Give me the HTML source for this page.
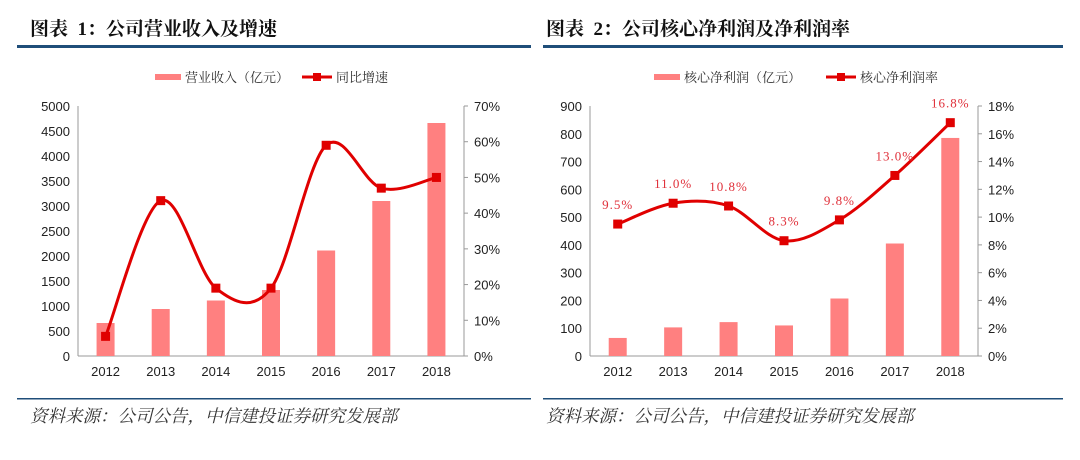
<!DOCTYPE html>
<html><head><meta charset="utf-8">
<style>
body{margin:0;background:#fff;width:1080px;height:460px;overflow:hidden;font-family:"Liberation Sans","Noto Sans CJK SC",sans-serif;}
svg{position:absolute;left:0;top:0}
</style></head>
<body>
<svg id="s" width="1080" height="460" xmlns="http://www.w3.org/2000/svg">
<text x="30" y="35" font-size="19" font-weight="bold" fill="#111" font-family="'Liberation Serif','Noto Serif CJK SC',serif">图表&#160;&#160;1：公司营业收入及增速</text>
<text x="546" y="35" font-size="19" font-weight="bold" fill="#111" font-family="'Liberation Serif','Noto Serif CJK SC',serif">图表&#160;&#160;2：公司核心净利润及净利润率</text>
<rect x="17" y="45" width="514" height="3" fill="#1f4e79"/>
<rect x="543" y="45" width="520" height="3" fill="#1f4e79"/>
<rect x="17" y="398" width="514" height="1.5" fill="#1f4e79"/>
<rect x="543" y="398" width="520" height="1.5" fill="#1f4e79"/>
<text x="30" y="422" font-size="17.5" font-style="italic" fill="#333" font-family="'Liberation Serif','Noto Serif CJK SC',serif">资料来源：公司公告，中信建投证券研究发展部</text>
<text x="546" y="422" font-size="17.5" font-style="italic" fill="#333" font-family="'Liberation Serif','Noto Serif CJK SC',serif">资料来源：公司公告，中信建投证券研究发展部</text>
</svg>
<script>
const categories = ["2012","2013","2014","2015","2016","2017","2018"];
const revenue = [660, 940, 1110, 1320, 2110, 3100, 4660];
const revenueGrowth = [5.5, 43.5, 19, 19, 59, 47, 50];
const leftTicks1 = [0,500,1000,1500,2000,2500,3000,3500,4000,4500,5000];
const rightTicks1 = [0,10,20,30,40,50,60,70];
const netProfit = [65, 103, 122, 110, 207, 405, 785];
const netMargin = [9.5, 11.0, 10.8, 8.3, 9.8, 13.0, 16.8];
const marginLabels = ["9.5%","11.0%","10.8%","8.3%","9.8%","13.0%","16.8%"];
const leftTicks2 = [0,100,200,300,400,500,600,700,800,900];
const rightTicks2 = [0,2,4,6,8,10,12,14,16,18];

const NS="http://www.w3.org/2000/svg";
const svg=document.getElementById('s');
function mk(tag,attrs,parent){const e=document.createElementNS(NS,tag);for(const k in attrs)e.setAttribute(k,attrs[k]);(parent||svg).appendChild(e);return e;}

function chart(o){
  const g=mk('g',{});
  
  
  const top=106,bot=356;
  const lmax=o.lt[o.lt.length-1], rmax=o.rt[o.rt.length-1];
  const yl=v=>bot-(v/lmax)*(bot-top);
  const yr=v=>bot-(v/rmax)*(bot-top);
  const bw=(o.x1-o.x0)/categories.length;
  const xc=i=>o.x0+bw*(i+0.5);
  let a=mk('line',{x1:o.x0,y1:top,x2:o.x0,y2:bot,stroke:'#999','stroke-width':1},g);
  
  a=mk('line',{x1:o.x1,y1:top,x2:o.x1,y2:bot,stroke:'#999','stroke-width':1},g);
  
  a=mk('line',{x1:o.x0,y1:bot,x2:o.x1,y2:bot,stroke:'#999','stroke-width':1},g);
  
  o.lt.forEach(v=>{
    const t=mk('text',{x:o.x0-8,y:yl(v)+5,'text-anchor':'end','font-size':13,fill:'#222'},g);
    t.textContent=v;
    
    
  });
  o.rt.forEach(v=>{
    mk('line',{x1:o.x1,y1:yr(v),x2:o.x1+4,y2:yr(v),stroke:'#999'},g);
    const t=mk('text',{x:o.x1+10,y:yr(v)+5,'font-size':13,fill:'#222'},g);
    t.textContent=v+'%';
    
    
  });
  categories.forEach((c,i)=>{
    const t=mk('text',{x:xc(i),y:bot+20,'text-anchor':'middle','font-size':13,fill:'#222'},g);
    t.textContent=c;
    
    
  });
  o.bars.forEach((v,i)=>{
    const r=mk('rect',{x:xc(i)-9,y:yl(v),width:18,height:bot-yl(v),fill:'#ff8080'},g);
    
    
  });
  const pts=o.line.map((v,i)=>[xc(i),yr(v)]);
  let d='M'+pts[0][0]+','+pts[0][1];
  for(let i=0;i<pts.length-1;i++){
    const p0=pts[Math.max(0,i-1)],p1=pts[i],p2=pts[i+1],p3=pts[Math.min(pts.length-1,i+2)];
    const t=1/6;
    d+=` C${p1[0]+(p2[0]-p0[0])*t},${p1[1]+(p2[1]-p0[1])*t} ${p2[0]-(p3[0]-p1[0])*t},${p2[1]-(p3[1]-p1[1])*t} ${p2[0]},${p2[1]}`;
  }
  const pl=mk('path',{d:d,fill:'none',stroke:'#e00000','stroke-width':3},g);
  
  
  pts.forEach((p,i)=>{
    const m=mk('rect',{x:p[0]-4.5,y:p[1]-4.5,width:9,height:9,fill:'#e00000'},g);
    
    
    if(o.labels){
      const t=mk('text',{x:p[0],y:p[1]-15,'text-anchor':'middle','font-size':13,'letter-spacing':1,fill:'#e0303a','font-family':"'Liberation Serif',serif"},g);
      t.textContent=o.labels[i];
      
      
    }
  });
  const lg=mk('g',{},g);
  
  
  mk('rect',{x:o.lx,y:74,width:26,height:6,fill:'#ff8080'},lg);
  let t=mk('text',{x:o.lx+30,y:82,'font-size':13,fill:'#333','font-family':"'Liberation Serif','Noto Serif CJK SC',serif"},lg);
  t.textContent=o.l1;
  
  
  mk('line',{x1:o.lx2,y1:77,x2:o.lx2+30,y2:77,stroke:'#e00000','stroke-width':3},lg);
  mk('rect',{x:o.lx2+11,y:73,width:8,height:8,fill:'#e00000'},lg);
  t=mk('text',{x:o.lx2+34,y:82,'font-size':13,fill:'#333','font-family':"'Liberation Serif','Noto Serif CJK SC',serif"},lg);
  t.textContent=o.l2;
  
  
}
chart({name:'chart1',x0:78,x1:464,lt:leftTicks1,rt:rightTicks1,bars:revenue,line:revenueGrowth,lx:155,lx2:302,l1:'营业收入（亿元）',l2:'同比增速'});
chart({name:'chart2',x0:590,x1:978,lt:leftTicks2,rt:rightTicks2,bars:netProfit,line:netMargin,labels:marginLabels,lx:654,lx2:826,l1:'核心净利润（亿元）',l2:'核心净利润率'});
</script>
</body></html>
